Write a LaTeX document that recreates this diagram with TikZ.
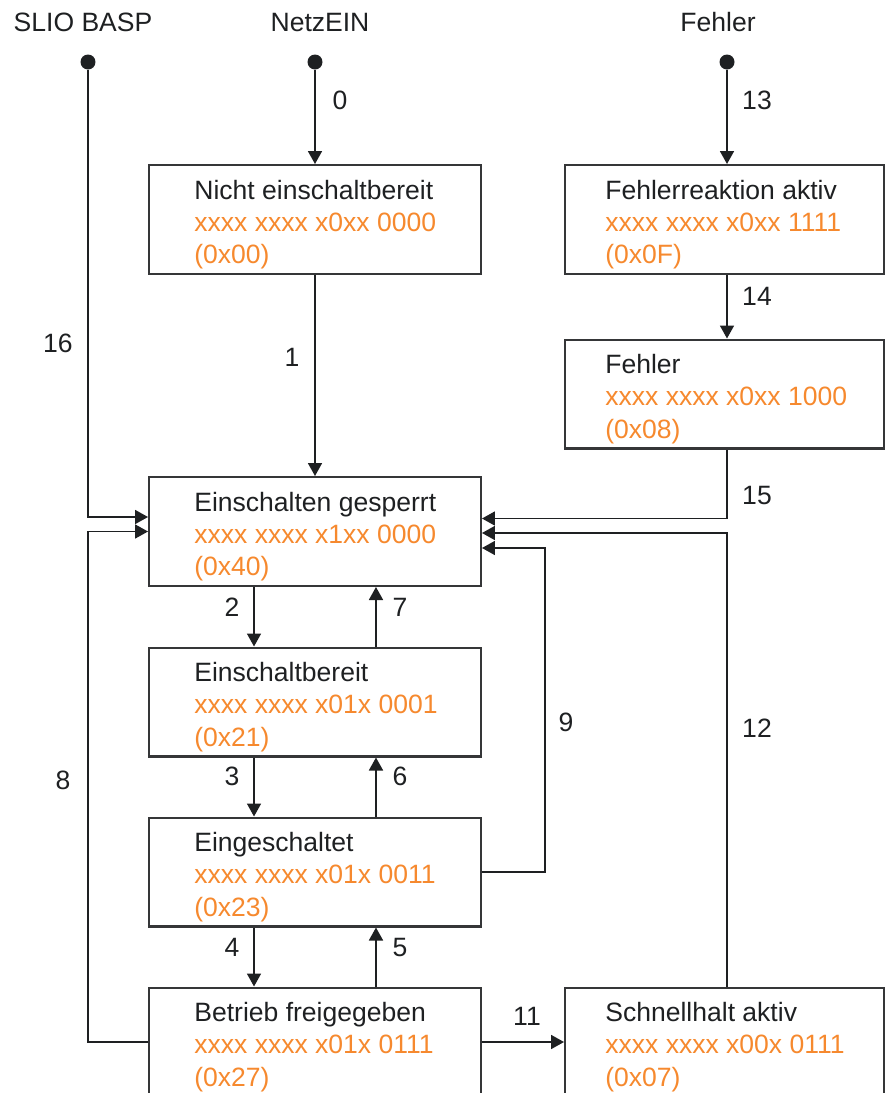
\documentclass[tikz,border=0pt]{standalone}
\usepackage{fontspec}
\setmainfont{Liberation Sans}
\usetikzlibrary{arrows.meta,calc}

\definecolor{zorange}{RGB}{246,137,46}
\definecolor{zdunkel}{RGB}{30,32,34}

\tikzset{
  zustand/.style={draw=zdunkel!90, line width=1.15pt, minimum width=6.64cm, minimum height=2.18cm, inner sep=0pt},
  zustandr/.style={zustand, minimum width=6.38cm},
  ztext/.style={anchor=west, align=left, inner sep=0pt, text=zdunkel},
  pfeil/.style={draw=zdunkel, line width=1pt, -{Triangle[length=0.26cm,width=0.28cm]}},
  punkt/.style={circle, fill=zdunkel, minimum size=0.3cm, inner sep=0pt},
  nr/.style={text=zdunkel, inner sep=0pt},
}
\newcommand{\bits}[1]{\textcolor{zorange}{#1}}

\begin{document}
\begin{tikzpicture}[x=0.02cm, y=-0.02cm, font=\fontsize{15.1}{18.4}\selectfont]
        \useasboundingbox (0,0) rectangle (886,1093);
        \clip (0,0) rectangle (886,1093);

        % Eingaenge oben
        \node[nr] (tbasp) at (83,22) {SLIO BASP};
        \node[nr] (tnetz) at (320,22) {NetzEIN};
        \node[nr] (tfehl) at (718,22) {Fehler};
        \node[punkt] (basp) at (88,62) {};
        \node[punkt] (netz) at (315,62) {};
        \node[punkt] (fehl) at (727,62) {};

        % Zustaende links
        \node[zustand] (nicht) at (315,219.5) {};
        \node[ztext] (nicht-t) at ([xshift=0.92cm,yshift=-0.1cm]nicht.west) {Nicht einschaltbereit\\ \bits{xxxx xxxx x0xx 0000}\\ \bits{(0x00)}};
        \node[zustand] (gesperrt) at (315,531.5) {};
        \node[ztext] (gesperrt-t) at ([xshift=0.92cm,yshift=-0.1cm]gesperrt.west) {Einschalten gesperrt\\ \bits{xxxx xxxx x1xx 0000}\\ \bits{(0x40)}};
        \node[zustand] (bereit) at (315,702) {};
        \node[ztext] (bereit-t) at ([xshift=0.92cm,yshift=-0.1cm]bereit.west) {Einschaltbereit\\ \bits{xxxx xxxx x01x 0001}\\ \bits{(0x21)}};
        \node[zustand] (einge) at (315,872) {};
        \node[ztext] (einge-t) at ([xshift=0.92cm,yshift=-0.1cm]einge.west) {Eingeschaltet\\ \bits{xxxx xxxx x01x 0011}\\ \bits{(0x23)}};
        \node[zustand] (betrieb) at (315,1042) {};
        \node[ztext] (betrieb-t) at ([xshift=0.92cm,yshift=-0.1cm]betrieb.west) {Betrieb freigegeben\\ \bits{xxxx xxxx x01x 0111}\\ \bits{(0x27)}};

        % Zustaende rechts
        \node[zustandr] (reaktion) at (724.5,219.5) {};
        \node[ztext] (reaktion-t) at ([xshift=0.82cm,yshift=-0.1cm]reaktion.west) {Fehlerreaktion aktiv\\ \bits{xxxx xxxx x0xx 1111}\\ \bits{(0x0F)}};
        \node[zustandr] (fehler) at (724.5,394) {};
        \node[ztext] (fehler-t) at ([xshift=0.82cm,yshift=-0.1cm]fehler.west) {Fehler\\ \bits{xxxx xxxx x0xx 1000}\\ \bits{(0x08)}};
        \node[zustandr] (schnell) at (724.5,1042) {};
        \node[ztext] (schnell-t) at ([xshift=0.82cm,yshift=-0.1cm]schnell.west) {Schnellhalt aktiv\\ \bits{xxxx xxxx x00x 0111}\\ \bits{(0x07)}};

        % Uebergaenge senkrecht
        \draw[pfeil] (netz) -- (nicht.north);
        \draw[pfeil] (nicht.south) -- (gesperrt.north);
        \draw[pfeil] (fehl) -- ([xshift=0.05cm]reaktion.north);
        \draw[pfeil] ([xshift=0.05cm]reaktion.south) -- ([xshift=0.05cm]fehler.north);
        \draw[pfeil] ([xshift=-1.22cm]gesperrt.south) -- ([xshift=-1.22cm]bereit.north);
        \draw[pfeil] ([xshift=1.22cm]bereit.north) -- ([xshift=1.22cm]gesperrt.south);
        \draw[pfeil] ([xshift=-1.22cm]bereit.south) -- ([xshift=-1.22cm]einge.north);
        \draw[pfeil] ([xshift=1.22cm]einge.north) -- ([xshift=1.22cm]bereit.south);
        \draw[pfeil] ([xshift=-1.22cm]einge.south) -- ([xshift=-1.22cm]betrieb.north);
        \draw[pfeil] ([xshift=1.22cm]betrieb.north) -- ([xshift=1.22cm]einge.south);
        \draw[pfeil] (betrieb.east) -- (schnell.west);

        % Rueckfuehrungen nach Einschalten gesperrt
        \draw[pfeil] (basp) |- ([yshift=0.29cm]gesperrt.west);
        \draw[pfeil] (betrieb.west) -- (betrieb.west -| basp) |- (gesperrt.west);
        \draw[pfeil] ([xshift=0.05cm]fehler.south) |- ([yshift=0.26cm]gesperrt.east);
        \draw[pfeil] ([xshift=0.05cm]schnell.north) |- ([yshift=-0.03cm]gesperrt.east);
        \draw[pfeil] (einge.east) -- ++(63,0) |- ([yshift=-0.33cm]gesperrt.east);

        % Nummern
        \node[nr] (n0) at (340,100) {0};
        \node[nr] (n1) at (292,357) {1};
        \node[nr] (n2) at (232,607) {2};
        \node[nr] (n3) at (232,776) {3};
        \node[nr] (n4) at (232,947) {4};
        \node[nr] (n5) at (400,947) {5};
        \node[nr] (n6) at (400,776) {6};
        \node[nr] (n7) at (400,607) {7};
        \node[nr] (n8) at (63,780) {8};
        \node[nr] (n9) at (566,722) {9};
        \node[nr] (n11) at (527,1016) {11};
        \node[nr] (n12) at (757,728) {12};
        \node[nr] (n13) at (757,100) {13};
        \node[nr] (n14) at (757,296) {14};
        \node[nr] (n15) at (757,495) {15};
        \node[nr] (n16) at (58,343) {16};
\end{tikzpicture}
\end{document}
